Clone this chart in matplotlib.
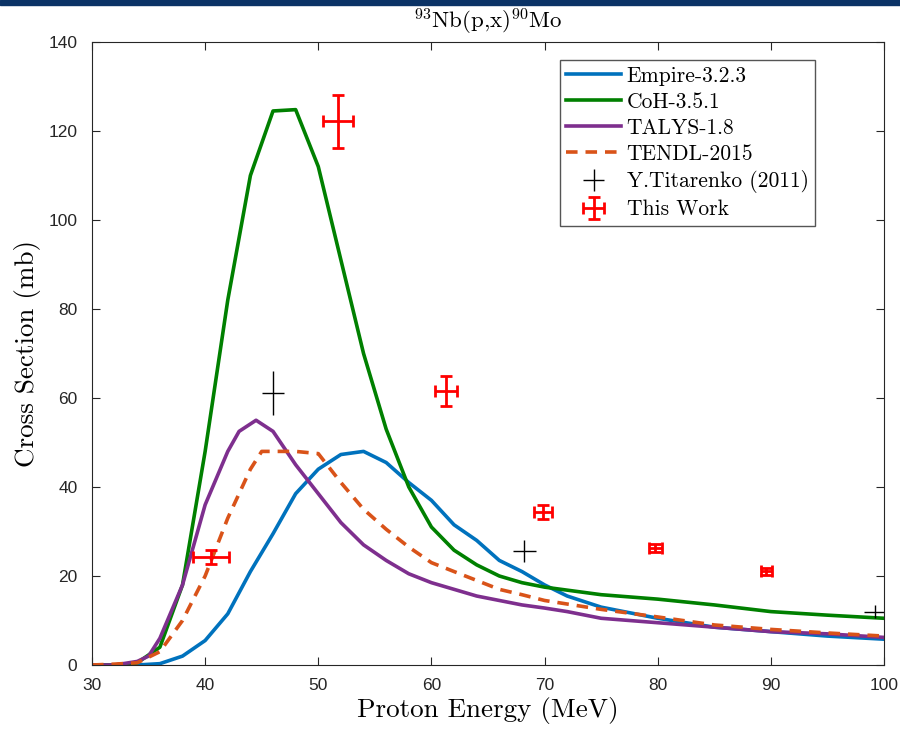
import matplotlib
matplotlib.use("Agg")
import matplotlib.pyplot as plt
from matplotlib.patches import Rectangle

# ---------------- data ----------------
empire_E = [30, 34, 36, 38, 40, 42, 44, 46, 48, 50, 52, 54, 56, 58, 60, 62, 64, 66, 68, 70, 72, 75, 80, 85, 90, 95, 100]
empire_xs = [0, 0, 0.3, 2, 5.5, 11.5, 21, 29.5, 38.5, 44, 47.3, 48, 45.5, 41, 37, 31.5, 28, 23.5, 21, 18, 15.5, 13, 10.5, 8.5, 7.5, 6.5, 5.8]

coh_E = [30, 32, 34, 36, 38, 40, 42, 44, 46, 48, 50, 52, 54, 56, 58, 60, 62, 64, 66, 68, 70, 75, 80, 85, 90, 95, 100]
coh_xs = [0, 0, 0.5, 4, 18, 48, 82, 110, 124.5, 124.8, 112, 91, 70, 53, 40, 31, 25.8, 22.5, 20, 18.5, 17.5, 15.8, 14.8, 13.5, 12, 11.2, 10.5]

talys_E = [30, 32, 34, 35, 36, 38, 40, 41, 42, 43, 44.5, 46, 48, 50, 52, 54, 56, 58, 60, 62, 64, 66, 68, 70, 72, 75, 80, 85, 90, 95, 100]
talys_xs = [0, 0, 0.8, 2, 6, 18, 36, 42, 48, 52.5, 55, 52.5, 45, 38.5, 32, 27, 23.5, 20.5, 18.5, 17, 15.5, 14.5, 13.5, 12.8, 12, 10.5, 9.5, 8.5, 7.5, 7, 6.2]

tendl_E = [30, 32, 34, 36, 38, 40, 42, 44, 45, 48, 50, 52, 54, 56, 58, 60, 62, 64, 66, 68, 70, 75, 80, 85, 90, 95, 100]
tendl_xs = [0, 0.2, 0.5, 3, 10, 20, 33, 44, 48, 48, 47.5, 41, 35, 30.5, 26.5, 23, 21, 19, 17, 15.8, 14.5, 12.5, 10.8, 9, 8, 7.2, 6.5]

tit_E = [46.0, 68.2, 99.2]
tit_xs = [61.1, 25.6, 12.0]
tit_xerr = [1.0, 1.0, 1.0]
tit_yerr = [5.0, 2.4, 1.5]

tw_E = [40.5, 51.75, 61.3, 69.9, 79.8, 89.6]
tw_xs = [24.3, 122.2, 61.6, 34.4, 26.3, 21.1]
tw_xerr = [1.6, 1.3, 1.0, 0.8, 0.6, 0.5]
tw_yerr = [1.5, 6.0, 3.3, 1.5, 1.0, 0.8]

x_ticks = [30, 40, 50, 60, 70, 80, 90, 100]
y_ticks = [0, 20, 40, 60, 80, 100, 120, 140]

# ---------------- style ----------------
plt.rcParams['mathtext.fontset'] = 'cm'
plt.rcParams['axes.unicode_minus'] = False
CM = 'cmr10'
TICKF = 'Liberation Sans'

fig = plt.figure(figsize=(9, 7.3), dpi=100)
fig.patches.append(Rectangle((0, 1 - 5 / 730), 1, 5 / 730, transform=fig.transFigure,
                             color='#0b3366', zorder=10))
ax = fig.add_axes([92 / 900, 1 - 665 / 730, (884 - 92) / 900, (665 - 42) / 730])

lw = 2.6
ax.plot(empire_E, empire_xs, color='#0072BD', lw=lw, label='Empire-3.2.3')
ax.plot(coh_E, coh_xs, color='#008000', lw=lw, label='CoH-3.5.1')
ax.plot(talys_E, talys_xs, color='#7E2F8E', lw=lw, label='TALYS-1.8')
ax.plot(tendl_E, tendl_xs, color='#D95319', lw=lw, ls=(0, (3.2, 2.2)), label='TENDL-2015')
ax.errorbar(tit_E, tit_xs, xerr=tit_xerr, yerr=tit_yerr, fmt='none', ecolor='black',
            elinewidth=1.0, capsize=0, label='Y.Titarenko (2011)')
ax.errorbar(tw_E, tw_xs, xerr=tw_xerr, yerr=tw_yerr, fmt='none', ecolor='#FF0000',
            elinewidth=2.0, capsize=4, capthick=2.0, label='This Work')

ax.set_xlim(30, 100)
ax.set_ylim(0, 140)
ax.set_xticks(x_ticks)
ax.set_yticks(y_ticks)
ax.set_xticklabels([str(t) for t in x_ticks], fontfamily=TICKF, fontsize=12.5, color='#262626')
ax.set_yticklabels([str(t) for t in y_ticks], fontfamily=TICKF, fontsize=12.5, color='#262626')
ax.tick_params(axis='y', direction='in', length=6, width=0.8, right=True, color='#262626', pad=10.5)
ax.tick_params(axis='x', direction='in', length=6, width=0.8, top=True, color='#262626', pad=9)
for s in ax.spines.values():
    s.set_color('#262626')
    s.set_linewidth(0.8)

ax.set_xlabel('Proton Energy (MeV)', fontfamily=CM, fontsize=19.5, labelpad=3)
ax.set_ylabel('Cross Section (mb)', fontfamily=CM, fontsize=19.5, labelpad=5.5)
ax.set_title(r'$^{93}$Nb(p,x)$^{90}$Mo', fontfamily=CM, fontsize=16.5, pad=10)

leg = ax.legend(loc='upper right', bbox_to_anchor=((815 - 92) / 792, (665 - 60) / 623),
                borderaxespad=0, prop={'family': CM, 'size': 15.5}, fancybox=False,
                edgecolor='#555555', framealpha=1, handlelength=2.55, handletextpad=0.25,
                labelspacing=0.3, borderpad=0.3)
leg.get_frame().set_linewidth(1.0)

fig.savefig('out.png', dpi=100)
